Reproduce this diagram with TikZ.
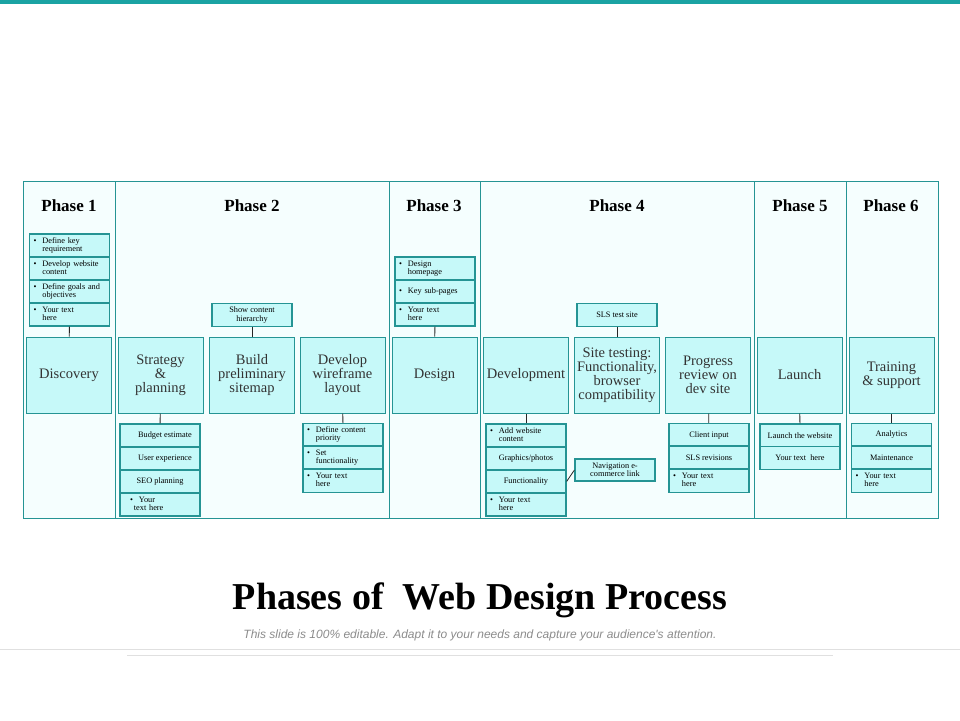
\documentclass[tikz,border=0pt]{standalone}
\usepackage{fontspec}
\setmainfont{Liberation Serif}
\newfontfamily\subfont{Liberation Sans}
\definecolor{teal1}{HTML}{1AA3A3}
\definecolor{bord}{HTML}{259494}
\definecolor{boxf}{HTML}{C6F9F9}
\definecolor{bgf}{HTML}{F5FEFE}
\newcommand\bitem[1]{\begin{tabular}{@{}l@{\hspace{6pt}}l@{}}\textbullet&\begin{tabular}[t]{@{}l@{}}#1\end{tabular}\end{tabular}}
\tikzset{
  main/.style={draw=bord,fill=boxf,line width=1pt,minimum width=85pt,minimum height=76pt,inner sep=1pt,align=center,font=\fontsize{14.5}{14}\selectfont,text=black!80},
  sb/.style={draw=bord,fill=boxf,line width=1.2pt,minimum width=80pt,minimum height=23pt,inner sep=1pt,align=center,font=\fontsize{8.3}{8.3}\selectfont},
  sbl/.style={sb,text width=72pt,align=left},
  ph/.style={font=\fontsize{17}{20}\selectfont\bfseries},
  conn/.style={draw=black!85,line width=0.8pt}
}
\begin{document}
\begin{tikzpicture}[x=1pt,y=-1pt]
\useasboundingbox (0,0) rectangle (960,720);
\fill[white] (0,0) rectangle (960,720);
\fill[teal1] (0,0) rectangle (960,4);
\draw[black!12,line width=0.6pt] (0,649) -- (960,649);
\draw[black!12,line width=0.6pt] (127,655) -- (833,655);
\draw[bord,fill=bgf,line width=1pt] (23,181) rectangle (938,518);
\foreach \x in {115,389,480,754,846} \draw[bord,line width=1pt] (\x,181) -- (\x,518);
\node[ph] (p1) at (69,206) {Phase 1};
\node[ph] (p2) at (252,206) {Phase 2};
\node[ph] (p3) at (434,206) {Phase 3};
\node[ph] (p4) at (617,206) {Phase 4};
\node[ph] (p5) at (800,206) {Phase 5};
\node[ph] (p6) at (891,206) {Phase 6};
\node[main] (m1) at (69,375) {Discovery};
\node[main] (m2) at (160.5,375) {Strategy\\\&\\planning};
\node[main] (m3) at (252,375) {Build\\preliminary\\sitemap};
\node[main] (m4) at (342.5,375) {Develop\\wireframe\\layout};
\node[main] (m5) at (434.5,375) {Design};
\node[main] (m6) at (526,375) {Development};
\node[main] (m7) at (617,375) {Site testing:\\Functionality,\\browser\\compatibility};
\node[main] (m8) at (708,375) {Progress\\review on\\dev site};
\node[main] (m9) at (799.5,375) {Launch};
\node[main] (m10) at (891.5,375) {Training\\\& support};
\node[sbl] (a1) at (69.5,245.5) {\bitem{Define key\\requirement}};
\node[sbl] (a2) at (69.5,268.5) {\bitem{Develop website\\content}};
\node[sbl] (a3) at (69.5,291.5) {\bitem{Define goals and\\objectives}};
\node[sbl] (a4) at (69.5,314.5) {\bitem{Your text\\here}};
\draw[conn] (a4) -- (m1);
\node[sb] (b1) at (252,315) {Show content\\hierarchy};
\draw[conn] (b1) -- (m3);
\node[sb] (s1) at (160,435.5) {\hspace*{10pt}Budget estimate};
\node[sb] (s2) at (160,458.5) {\hspace*{10pt}User experience};
\node[sb] (s3) at (160,481.5) {SEO planning};
\node[sbl] (s4) at (160,504.5) {\hspace*{6pt}\bitem{Your\\\hspace*{-5pt}text here}};
\draw[conn] (m2) -- (s1);
\node[sbl] (w1) at (343,435) {\bitem{Define content\\priority}};
\node[sbl] (w2) at (343,457.5) {\bitem{Set\\functionality}};
\node[sbl] (w3) at (343,481) {\bitem{Your text\\here}};
\draw[conn] (m4) -- (w1);
\node[sbl] (d1) at (435,268.5) {\bitem{Design\\homepage}};
\node[sbl] (d2) at (435,291.5) {\bitem{Key sub-pages}};
\node[sbl] (d3) at (435,314.5) {\bitem{Your text\\here}};
\draw[conn] (d3) -- (m5);
\node[sb] (t1) at (617,315) {SLS test site};
\draw[conn] (t1) -- (m7);
\node[sbl] (v1) at (526,435.5) {\bitem{Add website\\content}};
\node[sb] (v2) at (526,458.5) {Graphics/photos};
\node[sb] (v3) at (526,481.5) {Functionality};
\node[sbl] (v4) at (526,504.5) {\bitem{Your text\\here}};
\draw[conn] (m6) -- (v1);
\node[sb,minimum height=22pt] (nv) at (615,470) {Navigation e-\\commerce link};
\draw[conn] (v3.east) -- (nv.west);
\node[sb] (r1) at (709,435) {Client input};
\node[sb] (r2) at (709,457.5) {SLS revisions};
\node[sbl] (r3) at (709,481) {\bitem{Your text\\here}};
\draw[conn] (m8) -- (r1);
\node[sb] (l1) at (800,435.5) {Launch the website};
\node[sb] (l2) at (800,458) {Your text\ \ here};
\draw[conn] (m9) -- (l1);
\node[sb] (g1) at (891.5,435) {Analytics};
\node[sb] (g2) at (891.5,457.5) {Maintenance};
\node[sbl] (g3) at (891.5,481) {\bitem{Your text\\here}};
\draw[conn] (m10) -- (g1);
\node[font=\fontsize{38}{44}\selectfont\bfseries] (title) at (480,600) {Phases of\ \ Web Design Process};
\node[font=\subfont\itshape\fontsize{12}{14}\selectfont,text=black!45] (sub) at (480,635) {This slide is 100\% editable. Adapt it to your needs and capture your audience's attention.};
\end{tikzpicture}
\end{document}
